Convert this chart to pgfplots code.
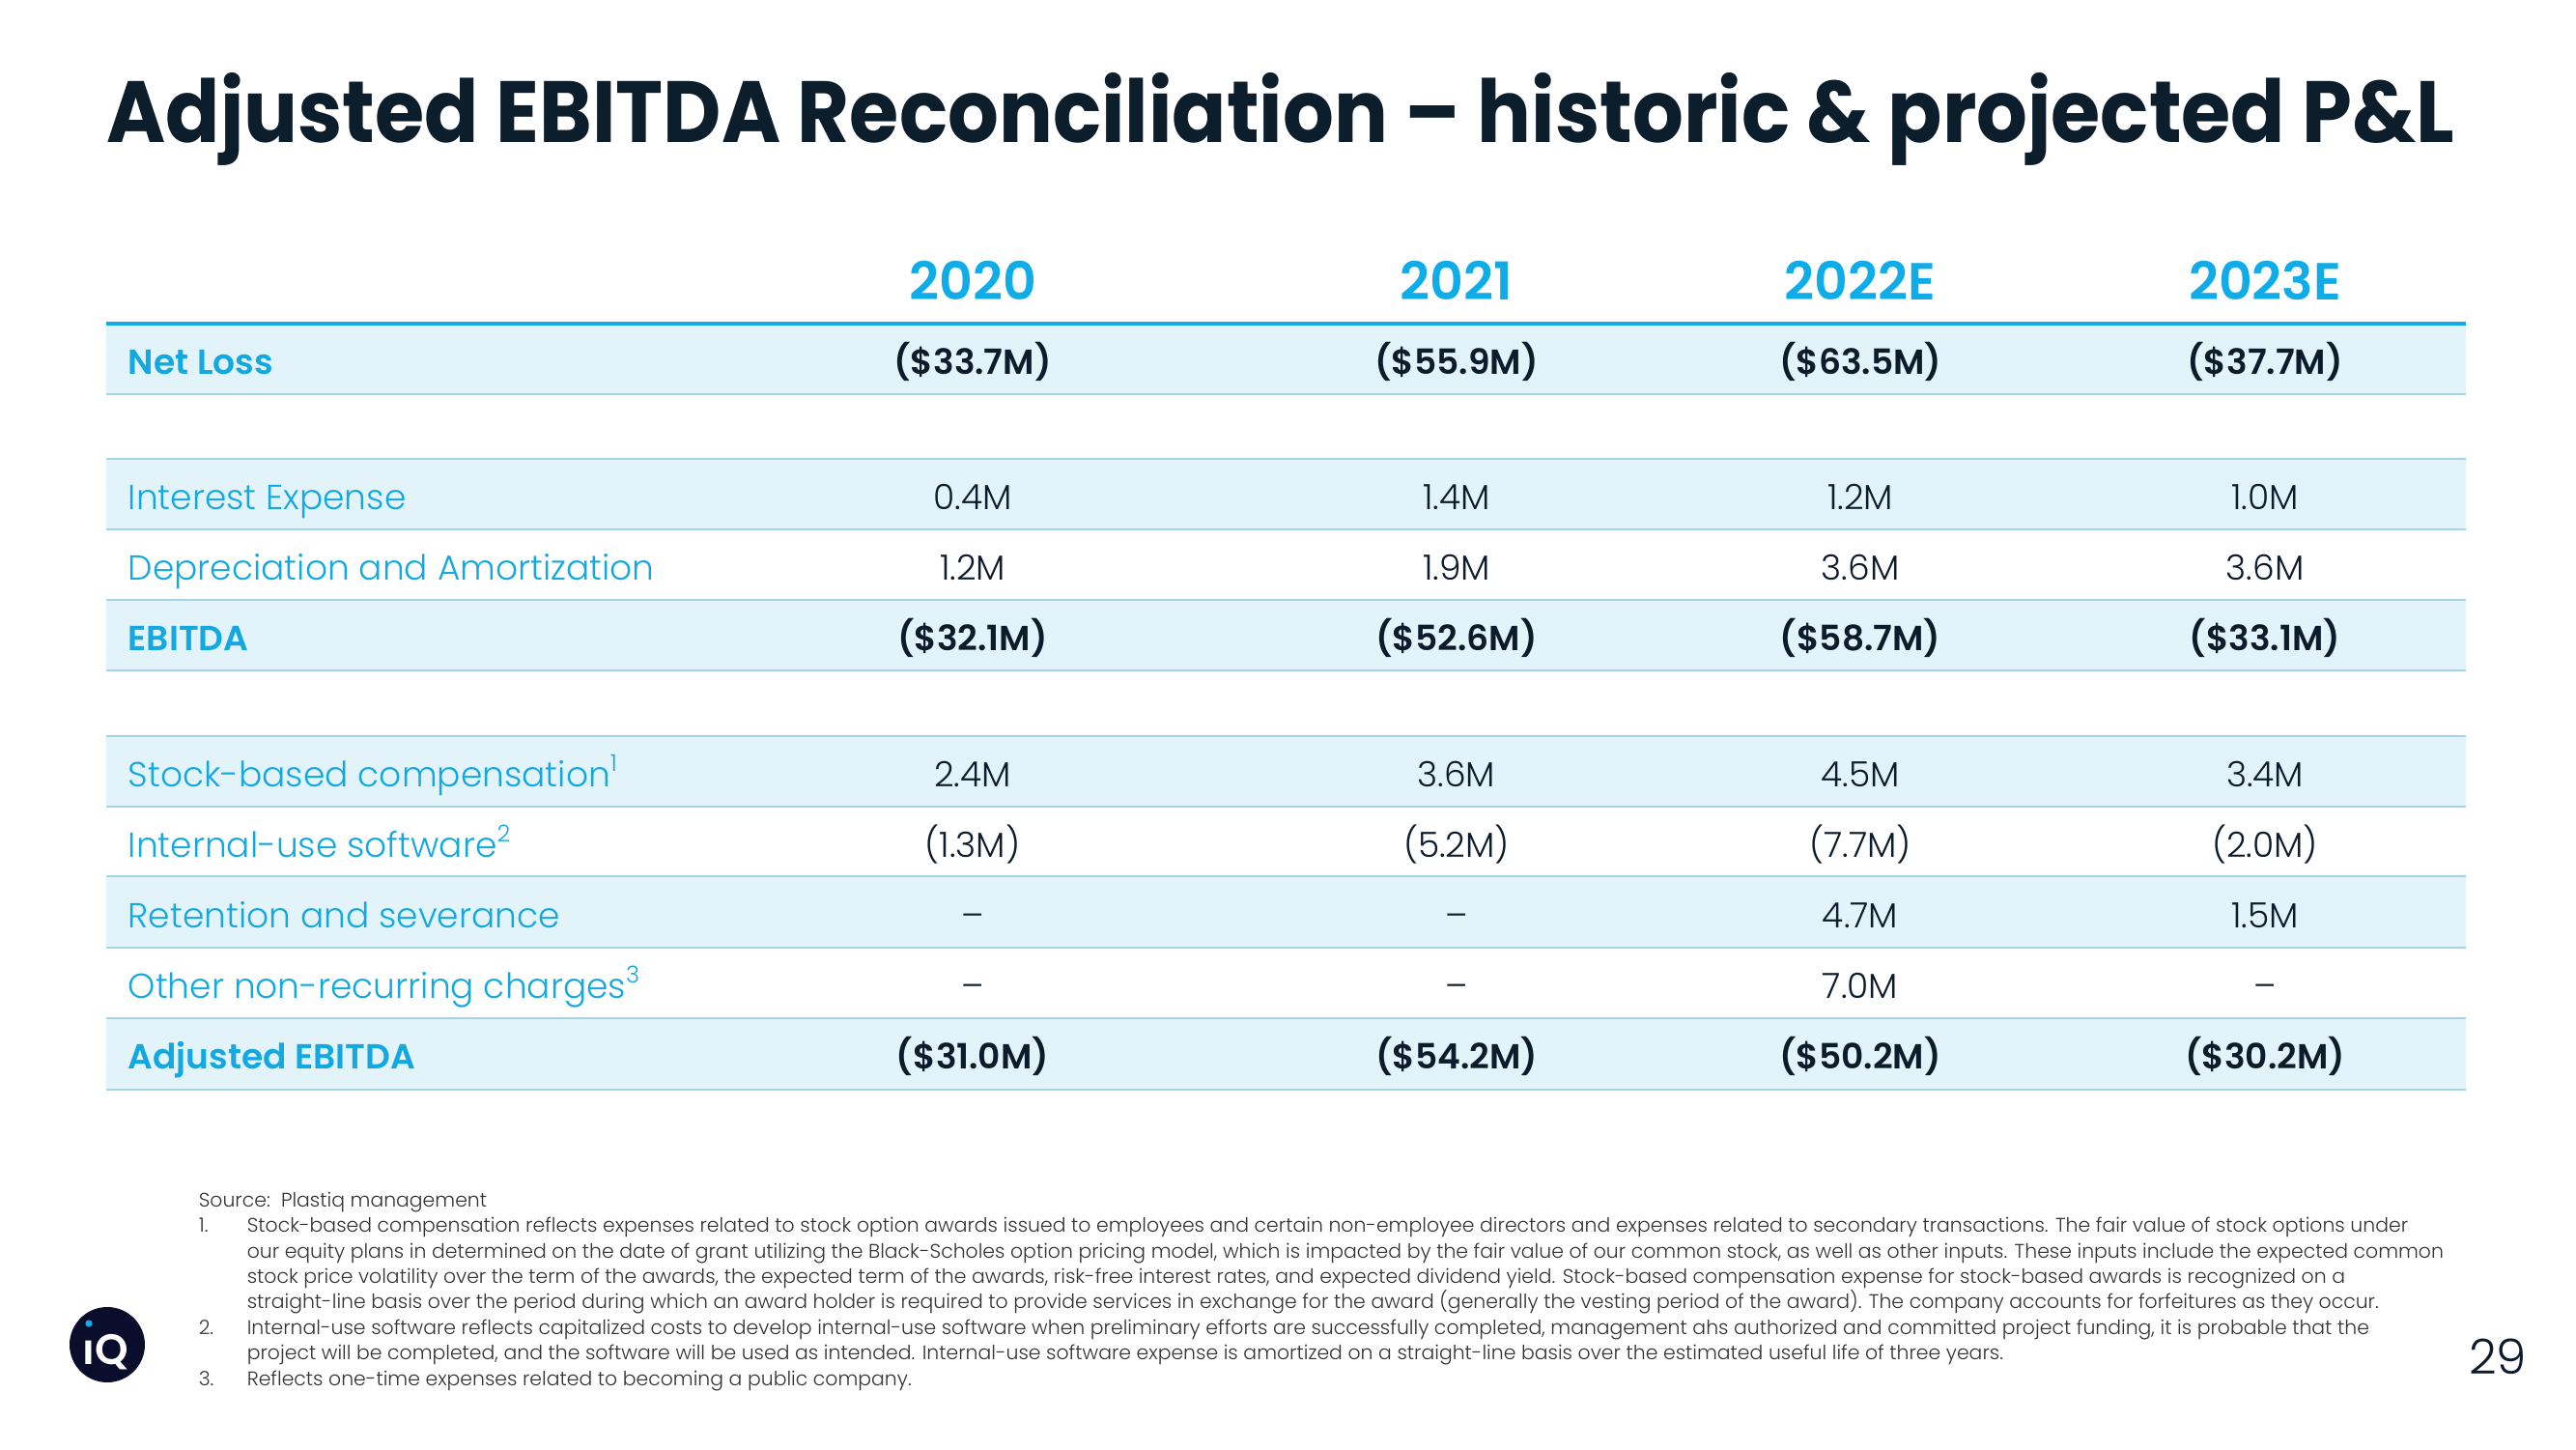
\documentclass[border=0pt]{standalone}
\usepackage{fontspec}
\usepackage{pgfplots}
\usepackage{pgfplotstable}
\pgfplotsset{compat=1.18}
\setmainfont{Poppins}
\newfontfamily\poplight{Poppins Light}
\newfontfamily\popsemi{Poppins SemiBold}
\newfontfamily\popbold{Poppins Bold}[FakeStretch=0.922]
\definecolor{titlenavy}{HTML}{0C1E2C}
\definecolor{valnavy}{HTML}{0D1B2A}
\definecolor{headcyan}{HTML}{0FACE8}
\definecolor{labblue}{HTML}{14A8E1}
\definecolor{rowfill}{HTML}{E2F3FA}
\definecolor{sepline}{HTML}{A7D3E8}
\definecolor{footgray}{HTML}{333333}
\definecolor{logonavy}{HTML}{0A0E2C}
\newcommand\ftitle{\popbold\fontsize{22.5}{27}\selectfont}
\newcommand\fyear{\popsemi\fontsize{13.5}{16}\selectfont}
\newcommand\flab{\poplight\fontsize{9}{11}\selectfont}
\newcommand\flabb{\popsemi\fontsize{9}{11}\selectfont}
\newcommand\ffoot{\poplight\fontsize{5.1}{6}\selectfont}

\pgfplotstableread[col sep=semicolon]{
x;y;v
1007;387;(\$33.7M)
1508;387;(\$55.9M)
1926;387;(\$63.5M)
2345;387;(\$37.7M)
1007;673;(\$32.1M)
1508;673;(\$52.6M)
1926;673;(\$58.7M)
2345;673;(\$33.1M)
1007;1106;(\$31.0M)
1508;1106;(\$54.2M)
1926;1106;(\$50.2M)
2345;1106;(\$30.2M)
}\boldvals

\pgfplotstableread[col sep=semicolon]{
x;y;v
1007;527;0.4M
1508;527;1.4M
1926;527;1.2M
2345;527;1.0M
1007;600;1.2M
1508;600;1.9M
1926;600;3.6M
2345;600;3.6M
1007;814;2.4M
1508;814;3.6M
1926;814;4.5M
2345;814;3.4M
1007;887;(1.3M)
1508;887;(5.2M)
1926;887;(7.7M)
2345;887;(2.0M)
1007;960;–
1508;960;–
1926;960;4.7M
2345;960;1.5M
1007;1033;–
1508;1033;–
1926;1033;7.0M
2345;1033;–
}\regvals

\begin{document}
\begin{tikzpicture}
\begin{axis}[
  scale only axis, width=666.75pt, height=375pt,
  xmin=0, xmax=2667, ymin=0, ymax=1500, y dir=reverse,
  hide axis, clip=false,
]
\path (axis cs:0,0) rectangle (axis cs:2667,1500);
% title
\node[anchor=base west, inner sep=0pt, text=titlenavy, font=\ftitle] at (axis cs:110,147)
  {Adjusted EBITDA Reconciliation – historic \& projected P\&L};
% row fills
\fill[rowfill] (axis cs:110,335) rectangle (axis cs:2553,408);
\fill[rowfill] (axis cs:110,475) rectangle (axis cs:2553,548);
\fill[rowfill] (axis cs:110,621) rectangle (axis cs:2553,694);
\fill[rowfill] (axis cs:110,762) rectangle (axis cs:2553,835);
\fill[rowfill] (axis cs:110,907) rectangle (axis cs:2553,981);
\fill[rowfill] (axis cs:110,1054) rectangle (axis cs:2553,1128);
% separator lines
\pgfplotsinvokeforeach{408,475,548,621,694,762,835,907,981,1054,1128}{
  \draw[sepline, line width=0.7pt] (axis cs:110,#1) -- (axis cs:2553,#1);
}
\draw[headcyan, line width=0.85pt] (axis cs:110,335) -- (axis cs:2553,335);
% year headers
\node[anchor=base, inner sep=0pt, text=headcyan, font=\fyear] at (axis cs:1007,310) {2020};
\node[anchor=base, inner sep=0pt, text=headcyan, font=\fyear] at (axis cs:1508,310) {2021};
\node[anchor=base, inner sep=0pt, text=headcyan, font=\fyear] at (axis cs:1926,310) {2022E};
\node[anchor=base, inner sep=0pt, text=headcyan, font=\fyear] at (axis cs:2345,310) {2023E};
% row labels
\node[anchor=base west, inner sep=0pt, text=labblue, font=\flabb] at (axis cs:132,387) {Net Loss};
\node[anchor=base west, inner sep=0pt, text=labblue, font=\flab] at (axis cs:132,527) {Interest Expense};
\node[anchor=base west, inner sep=0pt, text=labblue, font=\flab] at (axis cs:132,600) {Depreciation and Amortization};
\node[anchor=base west, inner sep=0pt, text=labblue, font=\flabb] at (axis cs:132,673) {EBITDA};
\node[anchor=base west, inner sep=0pt, text=labblue, font=\flab] at (axis cs:132,814) {Stock-based compensation\textsuperscript{1}};
\node[anchor=base west, inner sep=0pt, text=labblue, font=\flab] at (axis cs:132,887) {Internal-use software\textsuperscript{2}};
\node[anchor=base west, inner sep=0pt, text=labblue, font=\flab] at (axis cs:132,960) {Retention and severance};
\node[anchor=base west, inner sep=0pt, text=labblue, font=\flab] at (axis cs:132,1033) {Other non-recurring charges\textsuperscript{3}};
\node[anchor=base west, inner sep=0pt, text=labblue, font=\flabb] at (axis cs:132,1106) {Adjusted EBITDA};
% values
\addplot[draw=none, mark=none, nodes near coords, point meta=explicit symbolic,
  nodes near coords align={anchor=base},
  every node near coord/.append style={anchor=base, inner sep=0pt, text=valnavy, font=\flabb}]
  table[x=x, y=y, meta=v] {\boldvals};
\addplot[draw=none, mark=none, nodes near coords, point meta=explicit symbolic,
  nodes near coords align={anchor=base},
  every node near coord/.append style={anchor=base, inner sep=0pt, text=valnavy, font=\flab}]
  table[x=x, y=y, meta=v] {\regvals};
% footnotes
\node[anchor=base west, inner sep=0pt, text=footgray, font=\ffoot] at (axis cs:205,1249) {Source:\ \ Plastiq management};
\node[anchor=base west, inner sep=0pt, text=footgray, font=\ffoot] at (axis cs:205,1275) {1.};
\node[anchor=base west, inner sep=0pt, text=footgray, font=\ffoot] at (axis cs:255,1275) {Stock-based compensation reflects expenses related to stock option awards issued to employees and certain non-employee directors and expenses related to secondary transactions. The fair value of stock options under};
\node[anchor=base west, inner sep=0pt, text=footgray, font=\ffoot] at (axis cs:255,1302) {our equity plans in determined on the date of grant utilizing the Black-Scholes option pricing model, which is impacted by the fair value of our common stock, as well as other inputs. These inputs include the expected common};
\node[anchor=base west, inner sep=0pt, text=footgray, font=\ffoot] at (axis cs:255,1328) {stock price volatility over the term of the awards, the expected term of the awards, risk-free interest rates, and expected dividend yield. Stock-based compensation expense for stock-based awards is recognized on a};
\node[anchor=base west, inner sep=0pt, text=footgray, font=\ffoot] at (axis cs:255,1354) {straight-line basis over the period during which an award holder is required to provide services in exchange for the award (generally the vesting period of the award). The company accounts for forfeitures as they occur.};
\node[anchor=base west, inner sep=0pt, text=footgray, font=\ffoot] at (axis cs:205,1381) {2.};
\node[anchor=base west, inner sep=0pt, text=footgray, font=\ffoot] at (axis cs:255,1381) {Internal-use software reflects capitalized costs to develop internal-use software when preliminary efforts are successfully completed, management ahs authorized and committed project funding, it is probable that the};
\node[anchor=base west, inner sep=0pt, text=footgray, font=\ffoot] at (axis cs:255,1407) {project will be completed, and the software will be used as intended. Internal-use software expense is amortized on a straight-line basis over the estimated useful life of three years.};
\node[anchor=base west, inner sep=0pt, text=footgray, font=\ffoot] at (axis cs:205,1434) {3.};
\node[anchor=base west, inner sep=0pt, text=footgray, font=\ffoot] at (axis cs:255,1434) {Reflects one-time expenses related to becoming a public company.};
% page number
\node[anchor=base, inner sep=0pt, text=valnavy, font={\poplight\fontsize{12.5}{14}\selectfont}] at (axis cs:2586,1422) {29};
% logo
\fill[logonavy] (axis cs:111,1392) circle[radius=9.75pt];
\node[anchor=base west, inner sep=0pt, text=white, font={\popsemi\fontsize{11}{12}\selectfont}] at (axis cs:85,1412) {ıQ};
\fill[headcyan] (axis cs:92,1370) circle[radius=0.9pt];
\end{axis}
\end{tikzpicture}
\end{document}
